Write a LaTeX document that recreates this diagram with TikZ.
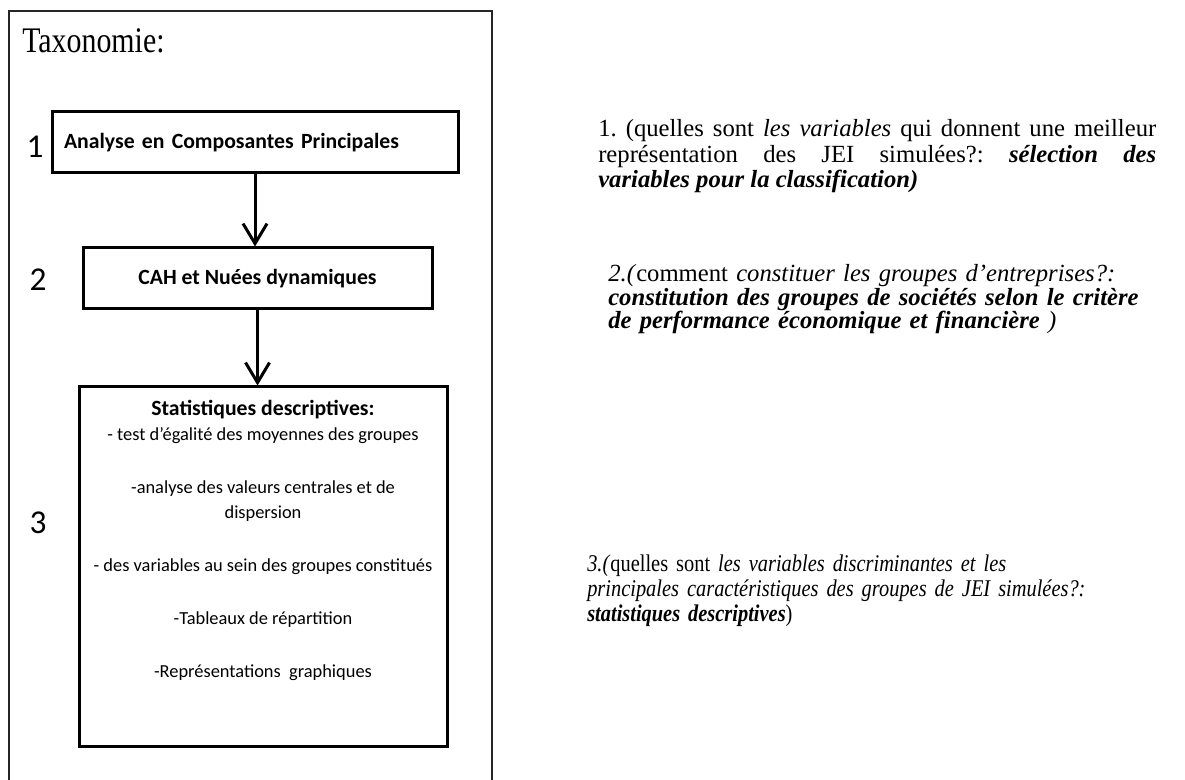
\documentclass[tikz,border=0pt]{standalone}
\usepackage{fontspec}
\setmainfont{Liberation Serif}
\newfontfamily\calib{Carlito}
\newfontfamily\titlefont[FakeStretch=0.83]{Liberation Serif}
\newfontfamily\tightserif[WordSpace=0.6]{Liberation Serif}
\newfontfamily\condserif[FakeStretch=0.85,WordSpace=0.5]{Liberation Serif}
\usetikzlibrary{arrows.meta}
\newcommand\tightlines{\lineskiplimit=-10pt\relax\frenchspacing}

\begin{document}
\begin{tikzpicture}[x=0.75pt,y=0.75pt,yscale=-1,xscale=1,
  stepbox/.style={draw, line width=2.25pt, inner sep=0pt},
  flowarrow/.style={line width=2.25pt, -{Straight Barb[length=15pt,width=18pt,line width=2.25pt]}},
  numlabel/.style={font=\calib\fontsize{25}{30}\selectfont, inner sep=0pt},
  remark/.style={anchor=base west, inner sep=0pt}]
\useasboundingbox (0,0) rectangle (1185,780);
\clip (0,0) rectangle (1185,780);
\draw [line width=0.8pt, black!85] (9,800) -- (9,11) -- (492,11) -- (492,800);
\node (title) at (22,53) [anchor=base west, inner sep=0pt, font=\titlefont\fontsize{27}{30}\selectfont] {Taxonomie:};
\node (acp) at (255,142.5) [stepbox, minimum width=304.5pt, minimum height=45.75pt, text width=286.5pt, align=left, font=\calib\bfseries\fontsize{16.3}{19}\selectfont] {Analyse en Composantes Principales};
\node (cah) at (257.5,278.5) [stepbox, minimum width=261.75pt, minimum height=45.75pt, font=\calib\bfseries\fontsize{16.3}{19}\selectfont] {CAH et Nuées dynamiques};
\node (stat) at (263,566.5) [stepbox, minimum width=276pt, minimum height=269.25pt] {};
\node (statlist) at ([yshift=11pt]stat.north) [anchor=north, align=center, inner sep=0pt, font=\calib\fontsize{13.8}{18.75}\selectfont] {{\bfseries\fontsize{16.3}{19}\selectfont Statistiques descriptives:}\\ - test d’égalité des moyennes des groupes\\[21pt] -analyse des valeurs centrales et de\\ dispersion\\[21pt] - des variables au sein des groupes constitués\\[21pt] -Tableaux de répartition\\[21pt] -Représentations~ graphiques};
\draw [flowarrow] (acp.south) -- (acp.south |- cah.north);
\draw [flowarrow] (cah.south) -- (cah.south |- stat.north);
\node (n1) at (35,147) [numlabel] {1};
\node (n2) at (38,280) [numlabel] {2};
\node (n3) at (38,523) [numlabel] {3};
\node (r1) at (598,137) [remark, text width=418.5pt, align=justify, font=\fontsize{18.5}{18.9}\selectfont] {\tightlines 1. (quelles sont \textit{les variables} qui donnent une meilleur\linebreak représentation des JEI simulées?: \textbf{\textit{sélection des\linebreak variables pour la classification)}}};
\node (r2) at (608,282) [remark, text width=420pt, align=left, font=\tightserif\fontsize{18.5}{17.6}\selectfont] {\tightlines\textit{2.(}comment \textit{constituer les groupes d’entreprises?:}\\ \textbf{\textit{constitution des groupes de sociétés selon le critère}}\\ \textbf{\textit{de performance économique et financière}} \textit{)}};
\node (r3) at (587,571) [remark, text width=440pt, align=left, font=\condserif\fontsize{18}{18.75}\selectfont] {\tightlines\textit{3.(}quelles sont \textit{les variables discriminantes et les}\\ \textit{principales caractéristiques des groupes de JEI simulées?:}\\ \textbf{\textit{statistiques descriptives}})};
\end{tikzpicture}
\end{document}
